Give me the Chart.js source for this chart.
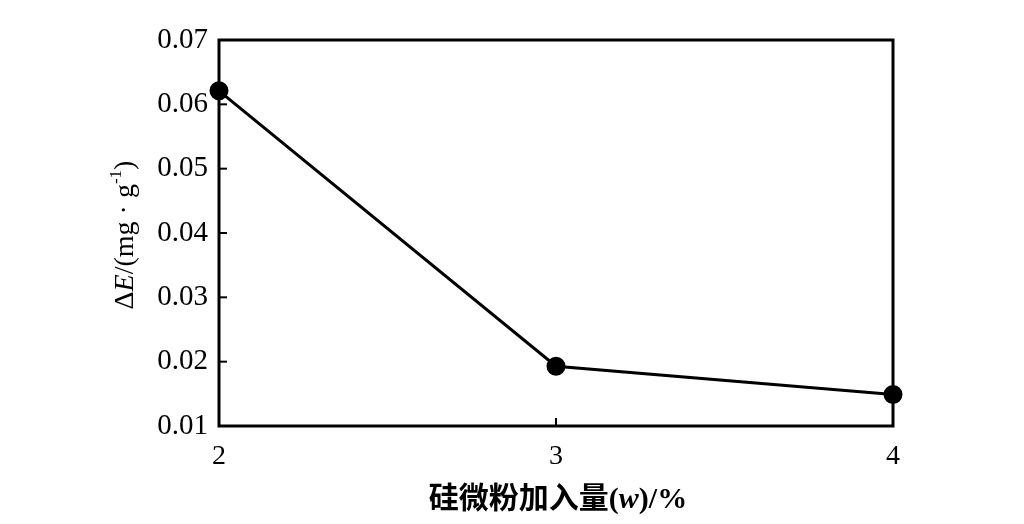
<!DOCTYPE html>
<html lang="zh">
<head>
    <meta charset="UTF-8">
    <title>硅微粉加入量与ΔE</title>
    <style>
        body { margin: 0; background: white; }
        #wrap { width: 1024px; height: 524px; }
    </style>
</head>
<body>
    <div id="wrap"><canvas id="chart" width="1024" height="524"></canvas></div>

    <script src="https://cdn.jsdelivr.net/npm/chart.js"></script>
    <script>
        // data
        const silicaAdded = [2, 3, 4];
        const deltaE = [0.0621, 0.0193, 0.0149];
        const yTicks = [0.01, 0.02, 0.03, 0.04, 0.05, 0.06, 0.07];
        const xTicks = [2, 3, 4];

        const serif = '"Liberation Serif", "DejaVu Serif", serif';

        // inward ticks, box frame and the two axis titles
        const framePlugin = {
            id: 'frame',
            afterDraw(chart) {
                const ctx = chart.ctx;
                const a = chart.chartArea;
                const xs = chart.scales.x, ys = chart.scales.y;
                ctx.save();
                ctx.strokeStyle = '#000';
                ctx.lineWidth = 3;
                ctx.strokeRect(a.left, a.top, a.right - a.left, a.bottom - a.top);

                ctx.lineWidth = 2;
                yTicks.slice(1, -1).forEach(v => {
                    const y = ys.getPixelForValue(v);
                    ctx.beginPath();
                    ctx.moveTo(a.left, y);
                    ctx.lineTo(a.left + 8, y);
                    ctx.stroke();
                });
                xTicks.slice(1, -1).forEach(v => {
                    const x = xs.getPixelForValue(v);
                    ctx.beginPath();
                    ctx.moveTo(x, a.bottom);
                    ctx.lineTo(x, a.bottom - 8);
                    ctx.stroke();
                });

                // x title: 硅微粉加入量(w)/%
                ctx.fillStyle = '#000';
                ctx.textBaseline = 'alphabetic';
                const parts = [
                    ['硅微粉加入量', 'bold 30px "Noto Sans CJK SC"'],
                    ['(', 'bold 30px ' + serif],
                    ['w', 'italic bold 30px ' + serif],
                    [')/%', 'bold 30px ' + serif]
                ];
                let total = 0;
                parts.forEach(p => { ctx.font = p[1]; total += ctx.measureText(p[0]).width; });
                let x0 = (a.left + a.right) / 2 - total / 2 + 2;
                parts.forEach(p => {
                    ctx.font = p[1];
                    ctx.fillText(p[0], x0, 508);
                    x0 += ctx.measureText(p[0]).width;
                });

                // y title: ΔE/(mg · g⁻¹)
                ctx.translate(133, (a.top + a.bottom) / 2 + 2);
                ctx.rotate(-Math.PI / 2);
                const yparts = [
                    ['Δ', '28px ' + serif, 0],
                    ['E', 'italic 28px ' + serif, 0],
                    ['/(mg · g', '28px ' + serif, 0],
                    ['-1', '17px ' + serif, -12],
                    [')', '28px ' + serif, 0]
                ];
                total = 0;
                yparts.forEach(p => { ctx.font = p[1]; total += ctx.measureText(p[0]).width; });
                x0 = -total / 2;
                yparts.forEach(p => {
                    ctx.font = p[1];
                    ctx.fillText(p[0], x0, p[2]);
                    x0 += ctx.measureText(p[0]).width;
                });
                ctx.restore();
            }
        };

        new Chart(document.getElementById('chart'), {
            type: 'line',
            data: {
                datasets: [{
                    data: silicaAdded.map((x, i) => ({ x: x, y: deltaE[i] })),
                    borderColor: '#000',
                    backgroundColor: '#000',
                    borderWidth: 3,
                    pointRadius: 8,
                    pointHoverRadius: 8,
                    tension: 0,
                    clip: false
                }]
            },
            options: {
                responsive: false,
                animation: false,
                layout: { padding: { top: 40, right: 131, left: 0, bottom: 0 } },
                plugins: { legend: { display: false }, tooltip: { enabled: false } },
                scales: {
                    x: {
                        type: 'linear',
                        min: 2,
                        max: 4,
                        afterFit: s => { s.height = 98; },
                        afterBuildTicks: s => { s.ticks = xTicks.map(v => ({ value: v })); },
                        grid: { display: false, drawTicks: false },
                        border: { display: false },
                        ticks: {
                            color: '#000',
                            padding: 14,
                            font: { family: serif, size: 28 },
                            maxRotation: 0
                        }
                    },
                    y: {
                        min: 0.01,
                        max: 0.07,
                        afterFit: s => { s.width = 219; },
                        afterBuildTicks: s => { s.ticks = yTicks.map(v => ({ value: v })); },
                        grid: { display: false, drawTicks: false },
                        border: { display: false },
                        ticks: {
                            color: '#000',
                            padding: 11,
                            font: { family: serif, size: 29 },
                            callback: v => v.toFixed(2)
                        }
                    }
                }
            },
            plugins: [framePlugin]
        });
    </script>
</body>
</html>
